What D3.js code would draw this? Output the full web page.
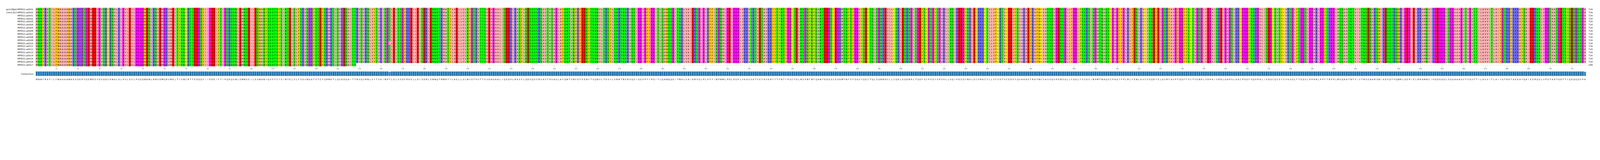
<!DOCTYPE html>
<html>
<head>
<meta charset="utf-8">
<script src="https://cdn.jsdelivr.net/npm/d3@7"></script>
<style>
  html, body { margin: 0; padding: 0; background: #fff; overflow: hidden; }
  svg { display: block; width: 100vw; height: auto; }
  text { font-family: "DejaVu Sans", sans-serif; }
</style>
</head>
<body>
<svg id="chart" viewBox="0 0 7448 409" preserveAspectRatio="xMinYMin meet"></svg>
<script>
// Reference sequence (MPEG1)
const refSeq =
  "MNNFRATILFWAAAAWAKSGKPSGEMDEVGVQKCKNALKLPVLEVLPGGGWDNLRNVDMGRVMELTYSNCRTTEDGQYIIPDEIFTIPQK" +
  "QSNLEMNSEILESWANYQSSTSYSINTELSLFSKVNGKFSTEFQRMKTLQVKDQAITTRVQVRNLVYTVKINPTLELSSGFRKELLDIS" +
  "DRLENNQTRMATYLAELLVLNYGTHVTTSVDAGAALIQEDHLRASFLQDSQSSRSAVTASAGLAFQNTVNFKFEENYTSQNVLTKSYLS" +
  "NRTNSRVQSIGGVPFYPGITLQAWQQGITNHLVAIDRSGLPLHFFINPNMLPDLPGPLVKKVSKTVETAVKRYYTFNTYPGCTDLNSPNF" +
  "NFQANTDDGSCEGKMTNFSFGGVYQECTQLSGNRDVLLCQKLEQKNPLTGDFSCPSGYSPVHLLSQIHEEGYNHLECHRKCTLLVFCK" +
  "TVCEDVFQVAKAEFRAFWCVASSQVPENSGLLFGGLFSSKSINPMTNAQSCPAGYFPLRLFENLKVCVSQDYELGSRFAVPFGGFFSCTV" +
  "GNPLVDPAISRDLGAPSLKKCPGGFSQHPALISDGCQVSYCVKSGLFTGGSLPPARLPPFTRPPLMSQAATNTVIVTNSENARSWIKDSQ" +
  "THQWRLGEPIELRRAMNVIHGDGGGLSGGAAAGVTVGVTTILAVVITLAIYGTRKFKKKAYQAIEERQSLVPGTAATGDTTYQEQGQSPA";

const rowNames = ["grch38p0:MPEG1:a0001", "chm13v2:MPEG1:a0002"]
  .concat(d3.range(1, 18).map(i => "MPEG1:a" + String(i).padStart(4, "0")));

// ungapped length of each row
const rowLengths = [716, 716, 716, 716, 716, 716, 716, 716, 716, 716, 716, 716, 716, 716, 716, 716, 716, 716, 148];

// point substitutions [row, position(1-based), residue]
const variants = [[11, 164, "I"], [17, 716, "V"]];

const tickValues = d3.range(10, 716, 10);

// Zappo colour scheme
const zappo = {
  I: "#ffafaf", L: "#ffafaf", V: "#ffafaf", A: "#ffafaf", M: "#ffafaf",
  F: "#ffc800", W: "#ffc800", Y: "#ffc800",
  K: "#6464ff", R: "#6464ff", H: "#6464ff",
  D: "#ff0000", E: "#ff0000",
  S: "#00ff00", T: "#00ff00", N: "#00ff00", Q: "#00ff00",
  P: "#ff00ff", G: "#ff00ff",
  C: "#ffff00", "-": "#ffffff"
};

// build aligned rows
const rows = rowNames.map((name, r) => {
  const chars = refSeq.split("").map((c, i) => i < rowLengths[r] ? c : "-");
  variants.filter(v => v[0] === r).forEach(v => { chars[v[1] - 1] = v[2]; });
  return { name, chars, len: rowLengths[r] };
});

const nCol = refSeq.length;
const svg = d3.select("#chart");

const x = d3.scaleBand().domain(d3.range(nCol)).range([166, 7383]).padding(0);
const y = d3.scaleBand().domain(d3.range(rows.length)).range([36, 308]).padding(0);
const cw = x.bandwidth();

const cells = [];
rows.forEach((row, r) => row.chars.forEach((c, i) => cells.push({ r, i, c })));

svg.append("g").selectAll("rect").data(cells).join("rect")
  .attr("x", d => x(d.i)).attr("y", d => y(d.r))
  .attr("width", cw + 0.3).attr("height", y.bandwidth() + 0.3)
  .attr("fill", d => zappo[d.c] || "#fff");

svg.append("g").selectAll("text").data(cells).join("text")
  .attr("x", d => x(d.i) + cw / 2).attr("y", d => y(d.r) + y.bandwidth() / 2 + 4)
  .attr("text-anchor", "middle").attr("font-size", 10.5).attr("fill", "#222")
  .text(d => d.c);

// row labels
svg.append("g").selectAll("text").data(rows).join("text")
  .attr("x", 155).attr("y", (d, r) => y(r) + y.bandwidth() / 2 + 4)
  .attr("text-anchor", "end").attr("font-size", 10.5).attr("fill", "#222")
  .text(d => d.name);

// lengths on the right
svg.append("g").selectAll("text").data(rows).join("text")
  .attr("x", 7394).attr("y", (d, r) => y(r) + y.bandwidth() / 2 + 4)
  .attr("font-size", 10.5).attr("fill", "#222")
  .text(d => d.len);

// position axis
const axis = d3.axisBottom(d3.scaleLinear().domain([0.5, nCol + 0.5]).range([166, 7383]))
  .tickValues(tickValues).tickSize(4).tickFormat(d3.format("d"));
const ax = svg.append("g").attr("transform", "translate(0,309)").call(axis);
ax.select(".domain").remove();
ax.selectAll("text").attr("font-size", 7).attr("fill", "#333").attr("dy", "0.9em");
ax.selectAll("line").attr("stroke", "#333");

// consensus (fraction of non-gap residues agreeing)
const consensus = d3.range(nCol).map(i => {
  const res = rows.map(row => row.chars[i]).filter(c => c !== "-");
  const counts = d3.rollup(res, v => v.length, c => c);
  const best = d3.greatest(counts, d => d[1]);
  return { i, c: best[0], frac: best[1] / res.length };
});

const h = d3.scaleLinear().domain([0, 1]).range([0, 21]);
svg.append("g").selectAll("rect").data(consensus).join("rect")
  .attr("x", d => x(d.i)).attr("y", d => 353 - h(d.frac))
  .attr("width", cw).attr("height", d => h(d.frac))
  .attr("fill", d => d.frac < 1 ? "#3a86c0" : "#1f77b4")
  .attr("stroke", "#e8f0f8").attr("stroke-width", 0.8);

svg.append("g").selectAll("text").data(consensus).join("text")
  .attr("x", d => x(d.i) + cw / 2).attr("y", 372)
  .attr("text-anchor", "middle").attr("font-size", 10).attr("fill", "#222")
  .text(d => d.c);

svg.append("text").attr("x", 155).attr("y", 347).attr("text-anchor", "end")
  .attr("font-size", 10.5).attr("fill", "#222").text("Consensus");
</script>
</body>
</html>
